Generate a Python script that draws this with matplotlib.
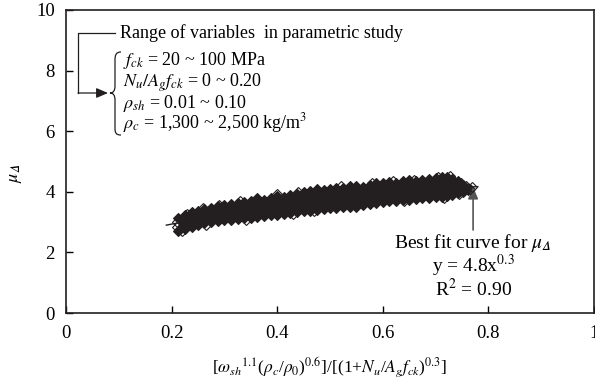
import matplotlib
matplotlib.use("Agg")
import matplotlib.pyplot as plt
from matplotlib.path import Path
from matplotlib.patches import PathPatch

plt.rcParams['font.family'] = ['Liberation Serif', 'DejaVu Serif']
plt.rcParams['mathtext.fontset'] = 'stix'

#散点带的上边缘 / 下边缘
band_x = [0.212, 0.225, 0.238, 0.25, 0.262, 0.275, 0.288, 0.30, 0.312, 0.325,
          0.338, 0.35, 0.362, 0.375, 0.388, 0.40, 0.412, 0.425, 0.438, 0.45,
          0.462, 0.475, 0.488, 0.50, 0.512, 0.525, 0.538, 0.55, 0.562, 0.575,
          0.588, 0.60, 0.612, 0.625, 0.638, 0.65, 0.662, 0.675, 0.688, 0.70,
          0.712, 0.722, 0.732, 0.742, 0.752, 0.762]
band_top = [3.15, 3.22, 3.32, 3.36, 3.44, 3.47, 3.53, 3.55, 3.60, 3.62,
            3.66, 3.70, 3.78, 3.74, 3.80, 3.86, 3.84, 3.90, 3.94, 3.98,
            4.04, 4.08, 4.06, 4.10, 4.14, 4.12, 4.18, 4.20, 4.17, 4.24,
            4.28, 4.30, 4.33, 4.28, 4.34, 4.38, 4.35, 4.40, 4.42, 4.45,
            4.48, 4.50, 4.42, 4.35, 4.22, 4.12]
band_bot = [2.70, 2.78, 2.85, 2.90, 2.96, 3.00, 3.04, 3.06, 3.08, 3.10,
            3.12, 3.14, 3.16, 3.19, 3.22, 3.25, 3.28, 3.30, 3.33, 3.36,
            3.38, 3.41, 3.43, 3.45, 3.47, 3.50, 3.51, 3.53, 3.56, 3.59,
            3.62, 3.65, 3.68, 3.70, 3.72, 3.74, 3.76, 3.78, 3.80, 3.82,
            3.84, 3.86, 3.90, 3.95, 4.00, 4.05]
#边缘上露出白色的点
top_x2 = [0.23, 0.26, 0.29, 0.33, 0.40, 0.44, 0.52, 0.58, 0.62, 0.66, 0.705,
          0.727, 0.748]
top_y2 = [3.28, 3.46, 3.56, 3.68, 3.92, 3.98, 4.18, 4.28, 4.36, 4.40, 4.48,
          4.52, 4.30]
bot_x2 = [0.22, 0.265, 0.34, 0.43, 0.47, 0.55, 0.64, 0.715, 0.745]
bot_y2 = [2.70, 2.92, 3.08, 3.26, 3.36, 3.50, 3.68, 3.80, 3.92]
#两端的几个点
end_x = [0.21, 0.21, 0.215, 0.765, 0.758, 0.768]
end_y = [2.85, 3.00, 2.78, 4.10, 4.18, 4.15]

#拟合曲线 y = 4.8x^0.3
fit_x = [0.19, 0.25, 0.30, 0.35, 0.40, 0.45, 0.50, 0.55, 0.60, 0.65, 0.70, 0.75, 0.78]
fit_y = [2.90, 3.10, 3.27, 3.42, 3.55, 3.67, 3.77, 3.86, 3.95, 4.03, 4.10, 4.15, 4.17]

xticks = [0, 0.2, 0.4, 0.6, 0.8, 1]
xticklabels = ['0', '0.2', '0.4', '0.6', '0.8', '1']
yticks = [0, 2, 4, 6, 8, 10]

range_title = 'Range of variables  in parametric study'
range_lines = [r'$f_{ck}$ = 20 ~ 100 MPa',
               r'$N_u/A_gf_{ck}$ = 0 ~ 0.20',
               r'$\rho_{sh}$ = 0.01 ~ 0.10',
               r'$\rho_c$ = 1,300 ~ 2,500 kg/m$^3$']
fit_lines = [r'Best fit curve for $\mu_{𝛥}$',
             r'y = 4.8x$^{0.3}$',
             r'R$^2$ = 0.90']


def px(x, y):
    '''像素坐标 -> 数据坐标'''
    return (x - 66) / 528.0, (313 - y) / 30.3


fig = plt.figure(figsize=(5.95, 3.81), dpi=100)
ax = fig.add_axes([66 / 595, 1 - 313 / 381, 528 / 595, 303 / 381])

dark = '#231f20'
solid = dict(ls='none', marker='D', ms=5.5, mfc=dark, mec=dark, mew=0.8, zorder=2)
hollow = dict(ls='none', marker='D', ms=5.5, mfc='none', mec=dark, mew=0.8, zorder=4)
ax.plot(fit_x, fit_y, color=dark, lw=1, zorder=1)
ax.fill_between(band_x, band_bot, band_top, color=dark, lw=0, zorder=2)
ax.plot(band_x, band_top, **solid)
ax.plot(band_x, band_bot, **solid)
ax.plot(top_x2, top_y2, **hollow)
ax.plot(bot_x2, bot_y2, **hollow)
ax.plot(end_x, end_y, **hollow)

ax.set_xlim(0, 1)
ax.set_ylim(0, 10)
ax.set_xticks(xticks)
ax.set_xticklabels(xticklabels)
ax.set_yticks(yticks)
ax.tick_params(direction='in', length=5, width=1, labelsize=13.5, colors='black')
ax.tick_params(axis='x', pad=9)
ax.tick_params(axis='y', pad=8)
for s in ax.spines.values():
    s.set_linewidth(1.2)
    s.set_color(dark)

ax.set_xlabel(r'[$\omega_{sh}$$^{1.1}$($\rho_c$/$\rho_0$)$^{0.6}$]/[(1+$N_u$/$A_gf_{ck}$)$^{0.3}$]',
              fontsize=12.5)
ax.xaxis.set_label_coords(0.5, -0.14)
ax.set_ylabel(r'$\mu_{𝛥}$', fontsize=13)
ax.yaxis.set_label_coords(-0.08, 0.462)

#左上角的说明
x0, y0 = px(78, 33)
x1, _ = px(115, 33)
_, y2 = px(78, 93)
xa, _ = px(108, 93)
ax.plot([x1, x0, x0], [y0, y0, y2], color=dark, lw=0.9)
ax.annotate('', xy=(xa, y2), xytext=(x0, y2),
            arrowprops=dict(arrowstyle='-|>,head_length=0.7,head_width=0.3',
                            color=dark, lw=0.9, shrinkA=0, shrinkB=0))
tx, ty = px(120, 38)
ax.text(tx, ty, range_title, fontsize=13, va='baseline', ha='left')
for i, line in enumerate(range_lines):
    bx, by = px(123, [65, 87, 108, 128][i])
    ax.text(bx, by, line, fontsize=13, va='baseline', ha='left')

#大括号
pts = [(121, 52), (116, 52), (115, 55), (115, 60), (115, 86),
       (115, 91), (113, 93), (110, 93), (113, 93), (115, 95), (115, 100),
       (115, 128), (115, 133), (116, 135), (121, 135)]
codes = [Path.MOVETO, Path.CURVE4, Path.CURVE4, Path.CURVE4, Path.LINETO,
         Path.CURVE4, Path.CURVE4, Path.CURVE4, Path.CURVE4, Path.CURVE4, Path.CURVE4,
         Path.LINETO, Path.CURVE4, Path.CURVE4, Path.CURVE4]
brace = Path([px(a, b) for a, b in pts], codes)
ax.add_patch(PathPatch(brace, fc='none', ec=dark, lw=0.9))

#拟合曲线的标注
ax.annotate('', xy=(0.771, 4.16), xytext=(0.771, 2.74),
            arrowprops=dict(arrowstyle='-|>,head_length=0.7,head_width=0.3',
                            color='#555555', lw=1.2, shrinkA=0, shrinkB=0))
for i, line in enumerate(fit_lines):
    ax.text(0.771, [2.15, 1.35, 0.56][i], line, fontsize=14, ha='center', va='baseline')

fig.savefig('out.png', dpi=100)
